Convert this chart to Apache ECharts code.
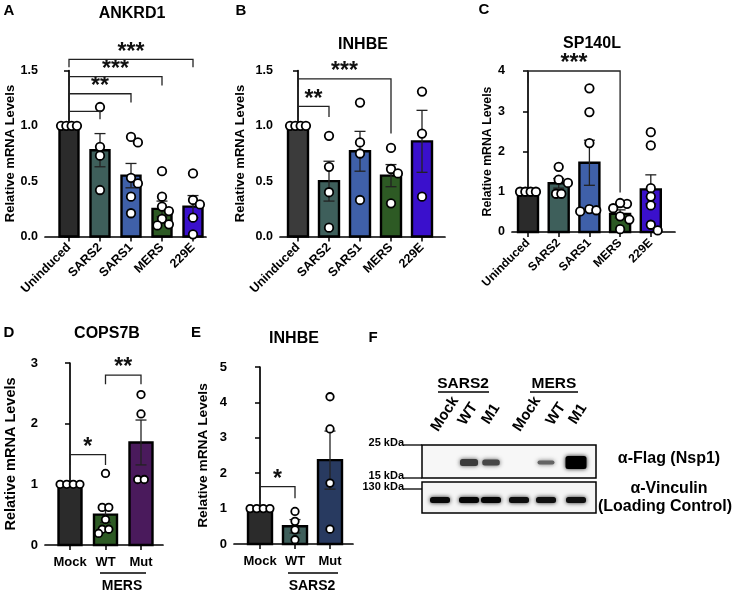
<!DOCTYPE html>
<html><head><meta charset="utf-8">
<script src="https://cdn.jsdelivr.net/npm/echarts@6/dist/echarts.min.js"></script>
<style>html,body{margin:0;padding:0;background:#fff}#c{width:736px;height:593px}</style>
</head><body><div id="c"></div><script>
// ---------------- DATA ----------------
const catsABC = ['Uninduced', 'SARS2', 'SARS1', 'MERS', '229E'];
const catsDE = ['Mock', 'WT', 'Mut'];

const aMeans = [1.00, 0.78, 0.55, 0.25, 0.27];
const aSems  = [0, 0.15, 0.11, 0.07, 0.10];
const aPoints = [[1, 1, 1, 1], [1.17, 0.81, 0.73, 0.42], [0.85, 0.90, 0.53, 0.48, 0.36, 0.21],
                 [0.59, 0.36, 0.27, 0.23, 0.16, 0.11, 0.10], [0.57, 0.33, 0.29, 0.17, 0.02]];
const aBrackets = [[0, 1, 1.13, 1.06, 1.06], [0, 2, 1.29, 1.21, 1.21], [0, 3, 1.445, 1.365, 1.365], [0, 4, 1.60, 1.53, 1.53]];
const aStars = ['', '**', '***', '***'];

const bMeans = [1.00, 0.50, 0.77, 0.55, 0.86];
const bSems  = [0, 0.18, 0.18, 0.10, 0.28];
const bPoints = [[1, 1, 1, 1], [0.91, 0.63, 0.40, 0.08], [1.21, 0.85, 0.75, 0.33],
                 [0.80, 0.61, 0.57, 0.30], [1.31, 0.93, 0.36]];
const bBrackets = [[0, 1, 1.175, 1.08, 1.08], [0, 3, 1.425, 1.35, 0.93]];
const bStars = ['**', '***'];

const cMeans = [1.00, 1.21, 1.72, 0.45, 1.06];
const cSems  = [0, 0.12, 0.56, 0.10, 0.36];
const cPoints = [[1, 1, 1, 1], [1.62, 1.30, 1.22, 0.95, 0.95], [3.57, 2.98, 2.21, 0.57, 0.54, 0.51],
                 [0.70, 0.72, 0.59, 0.39, 0.31, 0.07], [2.48, 2.15, 1.09, 0.88, 0.66, 0.18, 0.04]];
const cBrackets = [[0, 3, 4.0, 3.71, 0.98]];
const cStars = ['***'];

const dMeans = [1.00, 0.50, 1.69];
const dSems  = [0, 0.13, 0.37];
const dPoints = [[1, 1, 1, 1], [1.18, 0.62, 0.62, 0.42, 0.26, 0.26, 0.19], [2.48, 2.16, 1.08, 1.08]];
const dBrackets = [[0, 1, 1.49, 1.32, 1.32], [1, 2, 2.80, 2.65, 2.65]];
const dStars = ['*', '**'];

const eMeans = [1.00, 0.50, 2.37];
const eSems  = [0, 0.19, 0.82];
const ePoints = [[1, 1, 1, 1], [0.92, 0.64, 0.40, 0.12], [4.16, 3.25, 1.72, 0.42]];
const eBrackets = [[0, 1, 1.62, 1.29, 1.29]];
const eStars = ['*'];

const blotLanes = ['Mock', 'WT', 'M1', 'Mock', 'WT', 'M1'];
const blotGroups = ['SARS2', 'MERS'];
const flagLevel = [0, 0.7, 0.65, 0, 0.5, 1.0];
const vincLevel = [0.95, 0.97, 0.97, 0.93, 0.92, 0.92];
const markers = ['25 kDa', '15 kDa', '130 kDa'];

// ---------------- LAYOUT / STYLE ----------------
const FONT = '"Liberation Sans", Arial, Helvetica, sans-serif';
const colABC = ['#2b2b2b', '#3e5f5b', '#3f60a9', '#2d5a24', '#3a10cc'];
const panels = [
  {cats: catsABC, means: aMeans, sems: aSems, pts: aPoints, br: aBrackets, stars: aStars, colors: colABC,
   left: 45, top: 70.5, width: 161, height: 166, c0: 69, sp: 31, ymax: 1.5, yint: 0.5, dec: 1,
   barW: 19, rotate: 45, nameGap: 23, nameSize: 13, tickSize: 12.5, catSize: 12.5, sym: 8.5, rowGap: 5.3, minD: 8},
  {cats: catsABC, means: bMeans, sems: bSems, pts: bPoints, br: bBrackets, stars: bStars,
   colors: ['#3b3b3b', '#3e5f5b', '#3f60a9', '#2d5a24', '#3a10cc'],
   left: 280, top: 70.5, width: 165, height: 166, c0: 298, sp: 31, ymax: 1.5, yint: 0.5, dec: 1,
   barW: 20, rotate: 45, nameGap: 33, nameSize: 13, tickSize: 12.5, catSize: 12.5, sym: 8.5, rowGap: 5.3, minD: 8},
  {cats: catsABC, means: cMeans, sems: cSems, pts: cPoints, br: cBrackets, stars: cStars, colors: colABC,
   left: 512, top: 71, width: 163, height: 161, c0: 528, sp: 30.7, ymax: 4, yint: 1, dec: 0,
   barW: 20, rotate: 45, nameGap: 18, nameSize: 12.3, tickSize: 12.5, catSize: 12, sym: 8.5, rowGap: 5.3, minD: 8},
  {cats: catsDE, means: dMeans, sems: dSems, pts: dPoints, br: dBrackets, stars: dStars,
   colors: ['#2b2b2b', '#2d5a24', '#4a1a5c'],
   left: 45, top: 363, width: 118, height: 182, c0: 70, sp: 35.5, ymax: 3, yint: 1, dec: 0,
   barW: 23, rotate: 0, nameGap: 27, nameSize: 14.5, tickSize: 13, catSize: 13, sym: 7.5, rowGap: 6.6, minD: 7.5},
  {cats: catsDE, means: eMeans, sems: eSems, pts: ePoints, br: eBrackets, stars: eStars,
   colors: ['#2b2b2b', '#3e5f5b', '#283a60'],
   left: 234, top: 367, width: 119, height: 177, c0: 260, sp: 35, ymax: 5, yint: 1, dec: 0,
   barW: 24, rotate: 0, nameGap: 24, nameSize: 13.7, tickSize: 13, catSize: 13, sym: 7.5, rowGap: 6.6, minD: 7.5}
];

// beeswarm placement in pixels: identical rows sit side by side (centred), other neighbours keep a distance
function swarm(vals, pxY, rowGap, minD, step) {
  const order = vals.map((v, i) => i).sort((a, b) => vals[b] - vals[a]);
  const placed = [], off = new Array(vals.length).fill(0);
  for (const i of order) {
    const py = vals[i] * pxY;
    for (let k = 0; k < 80; k++) {
      const dx = (k === 0 ? 0 : (k % 2 ? 1 : -1) * Math.ceil(k / 2)) * step;
      const ok = placed.every(p => {
        const dy = Math.abs(p[1] - py), ddx = Math.abs(p[0] - dx);
        return dy < 1.5 ? ddx >= rowGap - 0.01 : Math.hypot(ddx, dy) >= minD;
      });
      if (ok) { placed.push([dx, py]); off[i] = dx; break; }
    }
  }
  // centre rows made of identical values
  const rows = {};
  vals.forEach((v, i) => { (rows[v] = rows[v] || []).push(i); });
  Object.values(rows).forEach(r => {
    if (r.length < 2) return;
    r.forEach((i, j) => { off[i] = (j - (r.length - 1) / 2) * rowGap; });
  });
  return off;
}

function barRender(p) {
  return function (params, api) {
    const x = api.value(0), m = api.value(1), s = api.value(2);
    const b = api.coord([x, 0]), t = api.coord([x, m]);
    const ch = [{type: 'rect', shape: {x: b[0] - p.barW / 2, y: t[1], width: p.barW, height: b[1] - t[1]},
      style: {fill: p.colors[params.dataIndex], stroke: '#000', lineWidth: 2.4}}];
    if (s > 0) {
      const hi = api.coord([x, m + s]), lo = api.coord([x, m - s]);
      const cw = 5.5;
      const es = {stroke: '#222', lineWidth: 1.3};
      ch.push({type: 'line', shape: {x1: hi[0], y1: hi[1], x2: lo[0], y2: lo[1]}, style: es});
      ch.push({type: 'line', shape: {x1: hi[0] - cw, y1: hi[1], x2: hi[0] + cw, y2: hi[1]}, style: es});
      ch.push({type: 'line', shape: {x1: lo[0] - cw, y1: lo[1], x2: lo[0] + cw, y2: lo[1]}, style: es});
    }
    return {type: 'group', children: ch};
  };
}

function bracketRender(p) {
  return function (params, api) {
    const x1 = api.value(0), x2 = api.value(1), yt = api.value(2), yl = api.value(3), yr = api.value(4);
    const p1 = api.coord([x1, yl]), p2 = api.coord([x1, yt]), p3 = api.coord([x2, yt]), p4 = api.coord([x2, yr]);
    return {type: 'group', children: [
      {type: 'polyline', shape: {points: [p1, p2, p3, p4]}, style: {stroke: '#222', lineWidth: 1.3, fill: null}},
      {type: 'text', x: (p2[0] + p3[0]) / 2, y: p2[1] - 7,
       style: {text: p.stars[params.dataIndex], font: 'bold 23px ' + FONT, fill: '#111',
               align: 'center', verticalAlign: 'middle', textAlign: 'center', textVerticalAlign: 'middle'}}
    ]};
  };
}

const grids = [], xAxes = [], yAxes = [], series = [];
panels.forEach((p, i) => {
  grids.push({left: p.left, top: p.top, width: p.width, height: p.height});
  const idx = p.cats.map((c, k) => k);
  xAxes.push({gridIndex: i, type: 'value', min: (p.left - p.c0) / p.sp, max: (p.left + p.width - p.c0) / p.sp,
    splitLine: {show: false},
    axisLine: {show: true, onZero: false, lineStyle: {color: '#000', width: 1.7}},
    axisTick: {show: true, length: 5, customValues: idx, lineStyle: {color: '#000', width: 1.5}},
    axisLabel: {customValues: idx, formatter: v => p.cats[Math.round(v)] || '', rotate: p.rotate,
      margin: p.rotate ? 9 : 11, fontFamily: FONT, fontWeight: 'bold', fontSize: p.catSize, color: '#000'}});
  yAxes.push({gridIndex: i, type: 'value', min: 0, max: p.ymax, interval: p.yint,
    name: 'Relative mRNA Levels', nameLocation: 'middle', nameGap: p.nameGap, nameRotate: 90,
    nameTextStyle: {fontFamily: FONT, fontWeight: 'bold', fontSize: p.nameSize, color: '#000'},
    splitLine: {show: false},
    axisLine: {show: true, lineStyle: {color: '#000', width: 1.7}},
    axisTick: {show: true, length: 5, lineStyle: {color: '#000', width: 1.5}},
    axisLabel: {margin: 7, formatter: v => v.toFixed(p.dec), fontFamily: FONT, fontWeight: 'bold',
      fontSize: p.tickSize, color: '#000'}});
  series.push({type: 'custom', xAxisIndex: i, yAxisIndex: i, z: 2, clip: false,
    renderItem: barRender(p), data: p.means.map((m, k) => [k, m, p.sems[k]])});
  const pxY = p.height / p.ymax;
  const sdata = [];
  p.pts.forEach((vals, k) => {
    const off = swarm(vals, pxY, p.rowGap, p.minD, 2.3);
    vals.forEach((v, j) => sdata.push([k + off[j] / p.sp, v]));
  });
  series.push({type: 'scatter', xAxisIndex: i, yAxisIndex: i, z: 3, clip: false, symbol: 'circle',
    symbolSize: p.sym, silent: true,
    itemStyle: {color: '#fff', borderColor: '#000', borderWidth: 1.8, opacity: 1}, data: sdata});
  series.push({type: 'custom', xAxisIndex: i, yAxisIndex: i, z: 4, clip: false,
    renderItem: bracketRender(p), data: p.br});
});

// ---------------- GRAPHIC (titles, letters, blot) ----------------
function T(text, x, y, size, opt) {
  opt = opt || {};
  return {type: 'text', x: x, y: y, rotation: opt.rot || 0, z: 10,
    style: {text: text, font: 'bold ' + size + 'px ' + FONT, fill: '#000',
      align: opt.align || 'center', verticalAlign: 'middle',
      textAlign: opt.align || 'center', textVerticalAlign: 'middle'}};
}
function L(x1, y1, x2, y2, w) {
  return {type: 'line', z: 10, shape: {x1: x1, y1: y1, x2: x2, y2: y2}, style: {stroke: '#000', lineWidth: w || 1.4}};
}
const g = [
  T('A', 9, 11, 15), T('ANKRD1', 132, 14, 16),
  T('B', 241, 11, 15), T('INHBE', 363, 45, 16),
  T('C', 484, 10, 15), T('SP140L', 592, 44, 16),
  T('D', 9, 333, 15), T('COPS7B', 107, 334, 16),
  T('E', 196, 333, 15), T('INHBE', 294, 339, 16),
  T('F', 373, 338, 15),
  L(100, 573, 146, 573), T('MERS', 122, 586, 14),
  L(288, 573, 338, 573), T('SARS2', 312, 586, 14)
];
// blot
const laneLabelX = [445, 468, 491, 527, 556, 578];
const bandX = [440, 469, 491, 519, 546, 576];
g.push(T(blotGroups[0], 463, 384, 15.5), L(438, 392, 489, 392, 1.4));
g.push(T(blotGroups[1], 554, 384, 15.5), L(530, 392, 578, 392, 1.4));
blotLanes.forEach((t, i) => g.push(T(t, laneLabelX[i], 414, 15, {rot: 57 * Math.PI / 180})));
g.push({type: 'rect', z: 5, shape: {x: 422, y: 445, width: 174, height: 33}, style: {fill: '#f7f7f7', stroke: '#000', lineWidth: 1.5}});
g.push({type: 'rect', z: 5, shape: {x: 422, y: 482, width: 174, height: 31}, style: {fill: '#f4f4f4', stroke: '#000', lineWidth: 1.5}});
flagLevel.forEach((lv, i) => {
  if (lv <= 0) return;
  const h = 4 + 20 * Math.max(0, lv - 0.55), w = 17 + 10 * Math.max(0, lv - 0.6);
  const c = Math.round(200 * (1 - lv));
  g.push({type: 'rect', z: 6, shape: {x: bandX[i] - w / 2, y: 462.5 - h / 2, width: w, height: h, r: 2.5},
    style: {fill: `rgb(${c},${c},${c})`, shadowBlur: 4, shadowColor: `rgba(${c},${c},${c},0.9)`}});
});
vincLevel.forEach((lv, i) => {
  const c = Math.round(200 * (1 - lv));
  g.push({type: 'rect', z: 6, shape: {x: bandX[i] - 10, y: 497, width: 20, height: 6, r: 2.5},
    style: {fill: `rgb(${c},${c},${c})`, shadowBlur: 4, shadowColor: `rgba(${c},${c},${c},0.9)`}});
});
const markerY = [445, 478, 489];
markers.forEach((m, i) => {
  g.push(T(m, 404, markerY[i] - 2, 11, {align: 'right'}), L(403, markerY[i], 422, markerY[i], 1.3));
});
g.push(T('α-Flag (Nsp1)', 669, 459, 16), T('α-Vinculin', 669, 489, 16), T('(Loading Control)', 665, 507, 16));

const chart = echarts.init(document.getElementById('c'), null, {renderer: 'canvas'});
chart.setOption({animation: false, backgroundColor: '#fff', grid: grids, xAxis: xAxes, yAxis: yAxes,
  series: series, graphic: {elements: g}});
</script></body></html>
